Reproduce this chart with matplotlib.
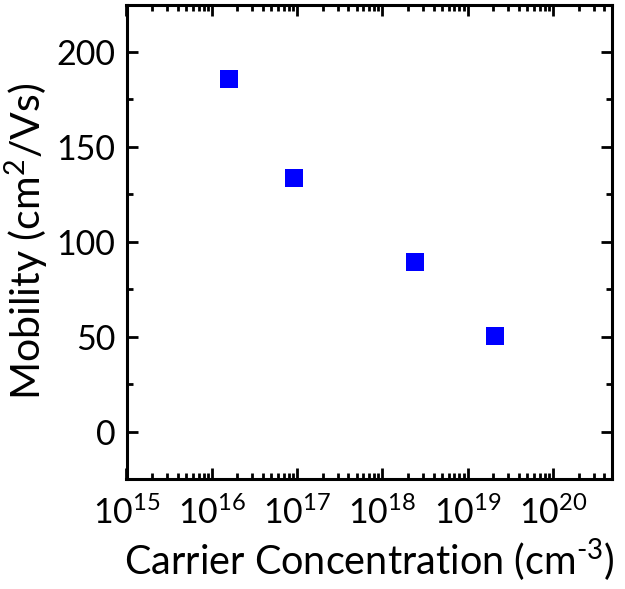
import matplotlib
matplotlib.use('Agg')
import matplotlib.pyplot as plt
from matplotlib.ticker import LogLocator, MultipleLocator, NullFormatter

conc = [1.6e16, 9.2e16, 2.45e18, 2.07e19]
mobility = [186, 133.5, 89.2, 50.2]

plt.rcParams['font.family'] = ['Lato', 'DejaVu Sans']
plt.rcParams['mathtext.fontset'] = 'custom'
plt.rcParams['mathtext.rm'] = 'Lato'

fig = plt.figure(figsize=(6.25, 5.89), dpi=100)
ax = fig.add_axes([126.5/625, 1 - 479/589, (611.7-126.5)/625, (479-4.5)/589])

ax.plot(conc, mobility, 's', color='#0000ff', markersize=12.5, markeredgewidth=0)

ax.set_xscale('log')
ax.set_xlim(1e15, 4.9e20)
ax.set_ylim(-25, 225)
ax.xaxis.set_major_locator(LogLocator(base=10, numticks=20))
ax.xaxis.set_minor_locator(LogLocator(base=10, subs=range(2, 10), numticks=20))
ax.xaxis.set_minor_formatter(NullFormatter())
ax.yaxis.set_major_locator(MultipleLocator(50))
ax.yaxis.set_minor_locator(MultipleLocator(25))

for s in ax.spines.values():
    s.set_linewidth(2.2)
ax.tick_params(which='both', direction='in', top=True, right=True, width=2)
ax.tick_params(which='major', length=8, labelsize=24.5, pad=8)
ax.tick_params(axis='x', which='major', pad=12)
ax.tick_params(which='minor', length=4.5)

ax.set_xlabel(r'Carrier Concentration (cm$^{\text{-3}}$)', fontsize=28.5, labelpad=5)
ax.set_ylabel('Mobility (cm$^{2}$/Vs)', fontsize=29.5, labelpad=4)

fig.savefig('out.png', dpi=100)
